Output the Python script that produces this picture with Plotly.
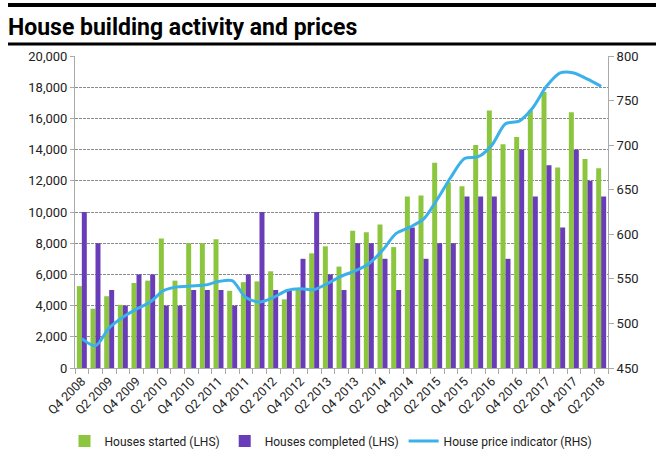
import plotly.graph_objects as go

quarters = []
for yr in range(2008, 2019):
    for q in range(1, 5):
        quarters.append(f"Q{q} {yr}")
quarters = quarters[quarters.index("Q4 2008"):quarters.index("Q2 2018") + 1]

houses_started = [5250, 3800, 4600, 4050, 5450, 5600, 8300, 5600, 8000, 8000,
                  8250, 4950, 5500, 5550, 6200, 4400, 5050, 7350, 7800, 6500,
                  8800, 8700, 9200, 7750, 11000, 11050, 13150, 11900, 11650, 14300,
                  16500, 14350, 14800, 16500, 17700, 12850, 16400, 13400, 12800]
houses_completed = [10000, 8000, 5000, 4000, 6000, 6000, 4000, 4000, 5000, 5000,
                    5000, 4000, 6000, 10000, 5000, 5000, 7000, 10000, 6000, 5000,
                    8000, 8000, 7000, 5000, 9000, 7000, 8000, 8000, 11000, 11000,
                    11000, 7000, 14000, 11000, 13000, 9000, 14000, 12000, 11000]
house_price = [483, 475, 495, 507, 516, 524, 537, 541, 542, 543,
               547, 548, 529, 524, 529, 537, 539, 538, 545, 553,
               559, 567, 582, 601, 608, 617, 639, 664, 685, 687,
               700, 724, 727, 742, 766, 781, 781, 774, 766]

tick_labels = quarters[::2]

W, H = 662, 461
L, R, T, B = 75, 608, 56, 368

x = list(range(len(quarters)))
green = "#8cc63e"
purple = "#6a3db8"
blue = "#3bb1ea"
font = "Roboto"

fig = go.Figure()
fig.add_trace(go.Bar(x=x, y=houses_started, name="Houses started (LHS)",
                     marker=dict(color=green, line=dict(width=0))))
fig.add_trace(go.Bar(x=x, y=houses_completed, name="Houses completed (LHS)",
                     marker=dict(color=purple, line=dict(width=0))))
fig.add_trace(go.Scatter(x=x, y=house_price, name="House price indicator (RHS)",
                         mode="lines", yaxis="y2",
                         line=dict(color=blue, width=3, shape="spline", smoothing=0.8)))

def px2paper_x(p):
    return (p - L) / (R - L)

def px2paper_y(p):
    return (B - p) / (B - T)

fig.update_layout(
    width=W, height=H,
    margin=dict(l=L, r=W - R, t=T, b=H - B, autoexpand=False),
    paper_bgcolor="white", plot_bgcolor="white",
    font=dict(family=font, size=13, color="#222"),
    barmode="group", bargap=0.27, bargroupgap=0,
    title=dict(text="<b>House building activity and prices</b>",
               x=8 / W, xanchor="left", xref="container",
               y=1 - 27 / H, yanchor="middle", yref="container",
               font=dict(family=font, size=23, color="#000")),
    xaxis=dict(range=[-0.5, len(quarters) - 0.5],
               tickmode="array", tickvals=x[::2], ticktext=tick_labels,
               tickangle=-45, ticks="", showgrid=False,
               showline=True, linecolor="#aaaaaa", linewidth=1,
               tickfont=dict(size=12.5, color="#222"),
               minor=dict(ticks="outside", tick0=-0.5, dtick=1, ticklen=5,
                          tickcolor="#aaaaaa", showgrid=False),
               zeroline=False),
    yaxis=dict(range=[0, 20000], dtick=2000, tickformat=",",
               showgrid=True, gridcolor="#8a8a8a", griddash="3px,1px", gridwidth=1,
               showline=True, linecolor="#aaaaaa", linewidth=1,
               ticks="outside", ticklen=4, tickcolor="#aaaaaa",
               zeroline=False, tickfont=dict(size=13, color="#222")),
    yaxis2=dict(range=[450, 800], dtick=50, overlaying="y", side="right",
                showgrid=False, showline=True, linecolor="#aaaaaa", linewidth=1,
                ticks="outside", ticklen=5, tickcolor="#aaaaaa",
                zeroline=False, tickfont=dict(size=13, color="#222")),
    legend=dict(orientation="h", x=0.5, xanchor="center", xref="container",
                y=1 - 441 / H, yanchor="middle", yref="container",
                font=dict(size=12, color="#222"), itemwidth=30,
                traceorder="normal", tracegroupgap=0),
    showlegend=True,
    shapes=[
        dict(type="line", xref="paper", yref="paper",
             x0=px2paper_x(8), x1=px2paper_x(656),
             y0=px2paper_y(5), y1=px2paper_y(5),
             line=dict(color="black", width=4)),
        dict(type="line", xref="paper", yref="paper",
             x0=px2paper_x(8), x1=px2paper_x(656),
             y0=px2paper_y(44), y1=px2paper_y(44),
             line=dict(color="black", width=3)),
    ],
)

fig.write_html("out.html", config={"displayModeBar": False},
               post_script="document.body.style.margin='0';")
